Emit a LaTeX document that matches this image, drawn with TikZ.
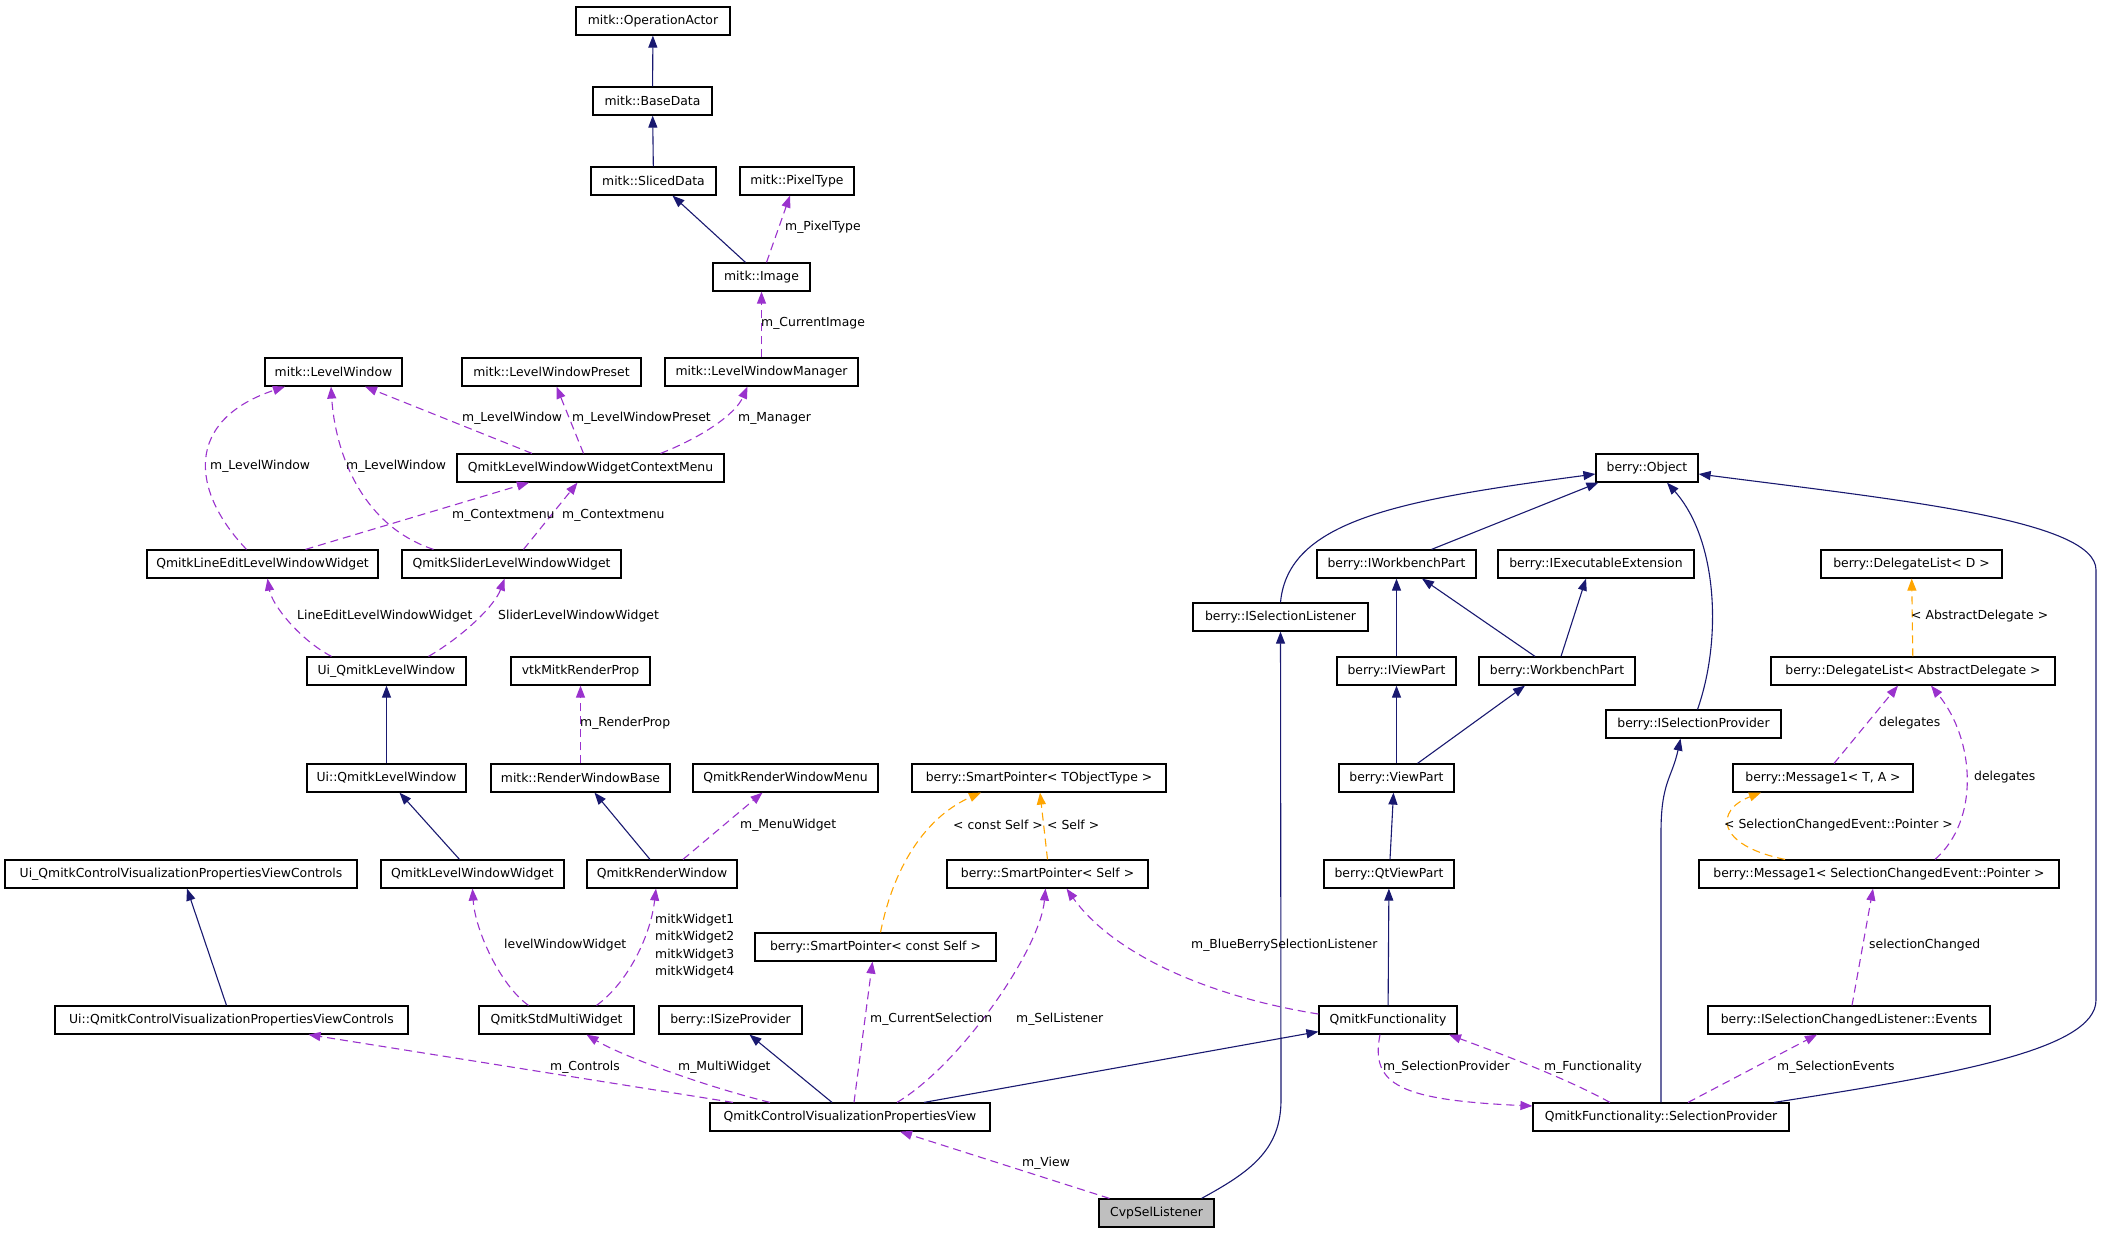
\documentclass[tikz,border=0pt]{standalone}
\usepackage{fontspec}
\setmainfont{DejaVu Sans}
\usetikzlibrary{arrows.meta}
\definecolor{inhblue}{HTML}{191970}
\definecolor{usepurple}{HTML}{9A32CD}
\definecolor{tmplorange}{HTML}{FFA500}
\tikzset{
	cls/.style={draw=black, line width=1.2pt, fill=white, inner sep=0pt, minimum height=28pt, font=\fontsize{12.4}{15}\selectfont},
	inh/.style={draw=inhblue, line width=1.1pt, -{Triangle[length=12pt,width=9pt]}},
	uses/.style={draw=usepurple, line width=1.1pt, dash pattern=on 8pt off 5pt, -{Triangle[length=12pt,width=9pt]}},
	tmpl/.style={draw=tmplorange, line width=1.1pt, dash pattern=on 8pt off 5pt, -{Triangle[length=12pt,width=9pt]}},
	lbl/.style={anchor=west, inner sep=0pt, font=\fontsize{12.4}{17.3}\selectfont}
}

\begin{document}
\begin{tikzpicture}[x=1pt,y=-1pt]
			%%%%% START %%%%%
			\useasboundingbox (0,0) rectangle (2101,1232);
			
			% mitk classes
			\node[cls, minimum width=154] (opactor) at (653,21) {mitk::OperationActor};
			\node[cls, minimum width=119] (basedata) at (652.5,101) {mitk::BaseData};
			\node[cls, minimum width=125] (sliceddata) at (653.5,181) {mitk::SlicedData};
			\node[cls, minimum width=114] (pixeltype) at (797,181) {mitk::PixelType};
			\node[cls, minimum width=97] (image) at (761.5,277) {mitk::Image};
			\node[cls, minimum width=137] (levelwindow) at (333.5,372) {mitk::LevelWindow};
			\node[cls, minimum width=179] (lwpreset) at (551.5,372) {mitk::LevelWindowPreset};
			\node[cls, minimum width=193] (lwmanager) at (761.5,372) {mitk::LevelWindowManager};
			\node[cls, minimum width=267] (ctxmenu) at (590.5,468) {QmitkLevelWindowWidgetContextMenu};
			\node[cls, minimum width=231] (lineedit) at (262.5,564) {QmitkLineEditLevelWindowWidget};
			\node[cls, minimum width=219] (slider) at (511.5,564) {QmitkSliderLevelWindowWidget};
			\node[cls, minimum width=159] (uilw) at (386.5,671) {Ui\_QmitkLevelWindow};
			\node[cls, minimum width=139] (vtkprop) at (580.5,671) {vtkMitkRenderProp};
			\node[cls, minimum width=159] (uiqlw) at (386.5,778) {Ui::QmitkLevelWindow};
			\node[cls, minimum width=179] (rwbase) at (580.5,778) {mitk::RenderWindowBase};
			\node[cls, minimum width=185] (rwmenu) at (785.5,778) {QmitkRenderWindowMenu};
			\node[cls, minimum width=254] (sptobj) at (1039,778) {berry::SmartPointer< TObjectType >};
			\node[cls, minimum width=352] (uicvpc) at (181,874) {Ui\_QmitkControlVisualizationPropertiesViewControls};
			\node[cls, minimum width=183] (lwwidget) at (472.5,874) {QmitkLevelWindowWidget};
			\node[cls, minimum width=150] (renderwin) at (662,874) {QmitkRenderWindow};
			\node[cls, minimum width=201] (spself) at (1047.5,874) {berry::SmartPointer< Self >};
			\node[cls, minimum width=241] (spconst) at (875.5,947) {berry::SmartPointer< const Self >};
			\node[cls, minimum width=353] (uiccvpc) at (231.5,1020) {Ui::QmitkControlVisualizationPropertiesViewControls};
			\node[cls, minimum width=155] (stdmulti) at (556.5,1020) {QmitkStdMultiWidget};
			\node[cls, minimum width=143] (sizeprov) at (730.5,1020) {berry::ISizeProvider};
			\node[cls, minimum width=280] (cvpview) at (850,1117) {QmitkControlVisualizationPropertiesView};
			
			% berry classes
			\node[cls, minimum width=102] (object) at (1647,468) {berry::Object};
			\node[cls, minimum width=159] (iwbpart) at (1396.5,564) {berry::IWorkbenchPart};
			\node[cls, minimum width=196] (iexecext) at (1596,564) {berry::IExecutableExtension};
			\node[cls, minimum width=181] (dlistd) at (1911.5,564) {berry::DelegateList< D >};
			\node[cls, minimum width=175] (isellist) at (1280.5,617) {berry::ISelectionListener};
			\node[cls, minimum width=119] (iviewpart) at (1396.5,671) {berry::IViewPart};
			\node[cls, minimum width=156] (wbpart) at (1557,671) {berry::WorkbenchPart};
			\node[cls, minimum width=284] (dlistad) at (1913,671) {berry::DelegateList< AbstractDelegate >};
			\node[cls, minimum width=175] (iselprov) at (1693.5,724) {berry::ISelectionProvider};
			\node[cls, minimum width=115] (viewpart) at (1396.5,778) {berry::ViewPart};
			\node[cls, minimum width=180] (msgta) at (1823,778) {berry::Message1< T, A >};
			\node[cls, minimum width=130] (qtviewpart) at (1389,874) {berry::QtViewPart};
			\node[cls, minimum width=360] (msgsce) at (1879,874) {berry::Message1< SelectionChangedEvent::Pointer >};
			\node[cls, minimum width=138] (functionality) at (1388,1020) {QmitkFunctionality};
			\node[cls, minimum width=282] (events) at (1849,1020) {berry::ISelectionChangedListener::Events};
			\node[cls, minimum width=256] (selprov) at (1661,1117) {QmitkFunctionality::SelectionProvider};
			\node[cls, minimum width=115, fill=gray!50] (cvpsel) at (1156.5,1213) {CvpSelListener};
			
			% inheritance
			\draw[inh] (basedata) -- (opactor);
			\draw[inh] (sliceddata) -- (basedata);
			\draw[inh] ([xshift=-16]image.north) -- ([xshift=19]sliceddata.south);
			\draw[inh] (uiqlw) -- (uilw);
			\draw[inh] ([xshift=-13]lwwidget.north) -- ([xshift=13]uiqlw.south);
			\draw[inh] ([xshift=-12]renderwin.north) -- ([xshift=14]rwbase.south);
			\draw[inh] ([xshift=-5]uiccvpc.north) -- ([xshift=6]uicvpc.south);
			\draw[inh] ([xshift=-18]cvpview.north) -- ([xshift=19]sizeprov.south);
			\draw[inh] ([xshift=74]cvpview.north) -- ([yshift=3]functionality.south west);
			\draw[inh] ([xshift=45]cvpsel.north) .. controls (1250,1172) and (1281,1150) .. (1281,1100) -- (isellist.south);
			\draw[inh] (isellist.north) .. controls (1288,520) and (1400,500) .. ([yshift=-6]object.west);
			\draw[inh] ([xshift=35]iwbpart.north) -- ([xshift=3]object.south west);
			\draw[inh] (iviewpart) -- (iwbpart);
			\draw[inh] ([xshift=-22]wbpart.north) -- ([xshift=25.5]iwbpart.south);
			\draw[inh] ([xshift=4]wbpart.north) -- ([xshift=-10]iexecext.south);
			\draw[inh] (viewpart) -- (iviewpart);
			\draw[inh] ([xshift=21]viewpart.north) -- ([xshift=-32]wbpart.south);
			\draw[inh] ([xshift=1]qtviewpart.north) -- ([xshift=-3]viewpart.south);
			\draw[inh] (functionality) -- (qtviewpart);
			\draw[inh] ([xshift=4]iselprov.north) .. controls (1722,640) and (1718,540) .. ([xshift=20]object.south);
			\draw[inh] (selprov.north) -- (1661,832) .. controls (1661,782) and (1672,778) .. ([xshift=-13]iselprov.south);
			\draw[inh] ([xshift=113]selprov.north) .. controls (1950,1075) and (2096,1050) .. (2096,1000) -- (2096,570) .. controls (2096,520) and (1900,500) .. ([yshift=-6]object.east);
			
			% usage
			\draw[uses] ([xshift=5]image.north) -- ([xshift=-7]pixeltype.south);
			\draw[uses] (lwmanager) -- (image);
			\draw[uses] ([xshift=-58.5]ctxmenu.north) -- ([xshift=31.5]levelwindow.south);
			\draw[uses] ([xshift=-7]ctxmenu.north) -- ([xshift=5]lwpreset.south);
			\draw[uses] ([xshift=70]ctxmenu.north) .. controls (700,438) and (735,415) .. ([xshift=-14]lwmanager.south);
			\draw[uses] ([xshift=-16]lineedit.north) .. controls (190,490) and (185,420) .. ([xshift=-48.5]levelwindow.south);
			\draw[uses] ([xshift=-78]slider.north) .. controls (360,525) and (335,450) .. ([xshift=-2.5]levelwindow.south);
			\draw[uses] ([xshift=43]lineedit.north) -- ([xshift=-61.5]ctxmenu.south);
			\draw[uses] ([xshift=12]slider.north) -- ([xshift=-13]ctxmenu.south);
			\draw[uses] ([xshift=-55]uilw.north) .. controls (300,640) and (272,605) .. ([xshift=5]lineedit.south);
			\draw[uses] ([xshift=42]uilw.north) .. controls (465,635) and (495,605) .. ([xshift=-7]slider.south);
			\draw[uses] (rwbase) -- (vtkprop);
			\draw[uses] ([xshift=21]renderwin.north) -- ([xshift=-23]rwmenu.south);
			\draw[uses] ([xshift=-28]stdmulti.north) .. controls (500,985) and (475,930) .. (lwwidget.south);
			\draw[uses] ([xshift=40]stdmulti.north) .. controls (625,985) and (650,940) .. ([xshift=-6]renderwin.south);
			\draw[uses] ([xshift=-117]cvpview.north) -- ([xshift=77]uiccvpc.south);
			\draw[uses] ([xshift=-80]cvpview.north) .. controls (700,1085) and (620,1055) .. ([xshift=30]stdmulti.south);
			\draw[uses] ([xshift=4]cvpview.north) -- ([xshift=-3]spconst.south);
			\draw[uses] ([xshift=47]cvpview.north) .. controls (960,1065) and (1040,950) .. ([xshift=-2]spself.south);
			\draw[uses] ([yshift=6]functionality.west) .. controls (1200,995) and (1110,950) .. ([xshift=19]spself.south);
			\draw[uses] ([xshift=-47]cvpsel.north) -- ([xshift=50]cvpview.south);
			\draw[uses] ([xshift=-8]functionality.south) .. controls (1370,1085) and (1400,1100) .. ([yshift=11]selprov.west);
			\draw[uses] ([xshift=-51]selprov.north) .. controls (1560,1075) and (1490,1050) .. ([xshift=61]functionality.south);
			\draw[uses] ([xshift=27]selprov.north) -- ([xshift=-32]events.south);
			\draw[uses] ([xshift=3]events.north) -- ([xshift=-6]msgsce.south);
			\draw[uses] ([xshift=56]msgsce.north) .. controls (1980,820) and (1975,740) .. ([xshift=18]dlistad.south);
			\draw[uses] ([xshift=11]msgta.north) -- ([xshift=-15]dlistad.south);
			
			% template instances
			\draw[tmpl] ([xshift=5]spconst.north) .. controls (895,860) and (930,815) .. ([xshift=-58]sptobj.south);
			\draw[tmpl] (spself.north) -- ([xshift=1]sptobj.south);
			\draw[tmpl] ([xshift=-94]msgsce.north) .. controls (1715,845) and (1715,810) .. ([xshift=-62]msgta.south);
			\draw[tmpl] (dlistad) -- (dlistd);
			
			% labels
			\node[lbl] (l1) at (785,227) {m\_PixelType};
			\node[lbl] (l2) at (761,323) {m\_CurrentImage};
			\node[lbl] (l3) at (462,418) {m\_LevelWindow};
			\node[lbl] (l4) at (572,418) {m\_LevelWindowPreset};
			\node[lbl] (l5) at (738,418) {m\_Manager};
			\node[lbl] (l6) at (210,466) {m\_LevelWindow};
			\node[lbl] (l7) at (346,466) {m\_LevelWindow};
			\node[lbl] (l8) at (452,515) {m\_Contextmenu};
			\node[lbl] (l9) at (562,515) {m\_Contextmenu};
			\node[lbl] (l10) at (297,616) {LineEditLevelWindowWidget};
			\node[lbl] (l11) at (498,616) {SliderLevelWindowWidget};
			\node[lbl] (l12) at (580,723) {m\_RenderProp};
			\node[lbl] (l13) at (740,825) {m\_MenuWidget};
			\node[lbl] (l14) at (953,825) {< const Self >};
			\node[lbl] (l15) at (1047,825) {< Self >};
			\node[lbl] (l16) at (504,945) {levelWindowWidget};
			\node[lbl, align=left] (l17) at (655,946) {mitkWidget1\\mitkWidget2\\mitkWidget3\\mitkWidget4};
			\node[lbl] (l18) at (870,1019) {m\_CurrentSelection};
			\node[lbl] (l19) at (1016,1019) {m\_SelListener};
			\node[lbl] (l20) at (550,1067) {m\_Controls};
			\node[lbl] (l21) at (678,1067) {m\_MultiWidget};
			\node[lbl] (l22) at (1022,1163) {m\_View};
			\node[lbl] (l23) at (1911,616) {< AbstractDelegate >};
			\node[lbl] (l24) at (1879,723) {delegates};
			\node[lbl] (l25) at (1974,777) {delegates};
			\node[lbl] (l26) at (1724,825) {< SelectionChangedEvent::Pointer >};
			\node[lbl] (l27) at (1191,945) {m\_BlueBerrySelectionListener};
			\node[lbl] (l28) at (1869,945) {selectionChanged};
			\node[lbl] (l29) at (1383,1067) {m\_SelectionProvider};
			\node[lbl] (l30) at (1544,1067) {m\_Functionality};
			\node[lbl] (l31) at (1777,1067) {m\_SelectionEvents};
			
			%%%%% END %%%%%
\end{tikzpicture}
\end{document}
